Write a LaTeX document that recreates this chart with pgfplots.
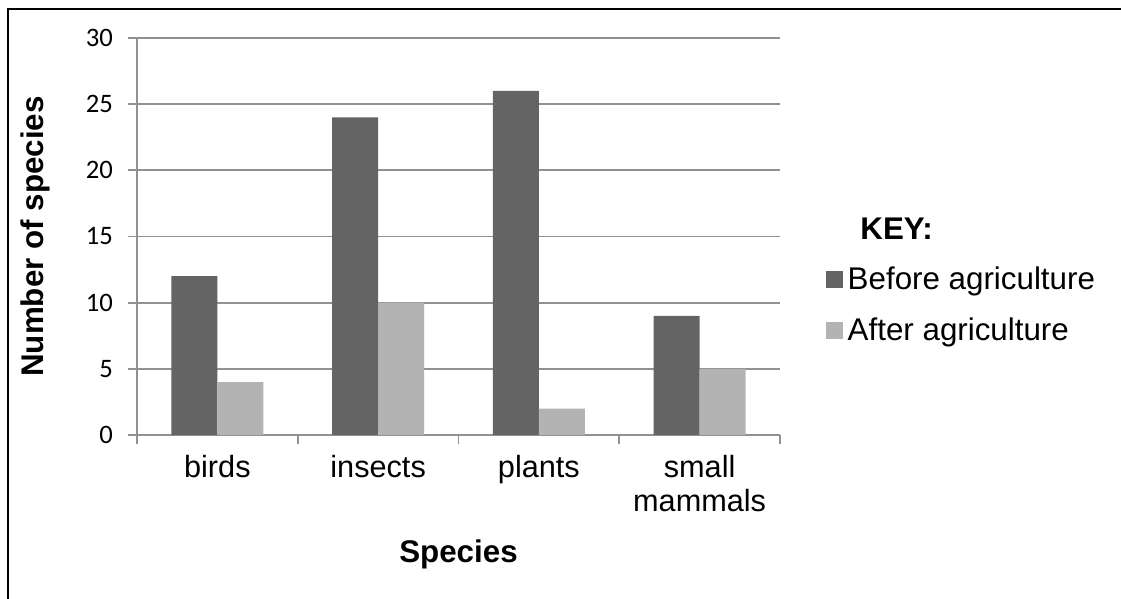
\documentclass[border=0pt]{standalone}
\usepackage{pgfplots}
\pgfplotsset{compat=1.18}
\usepackage{fontspec}
\setmainfont{Liberation Sans}
\newfontfamily\carlito{Carlito}
\definecolor{darkbar}{RGB}{100,100,100}
\definecolor{lightbar}{RGB}{179,179,179}
\definecolor{gridgray}{RGB}{145,145,145}
\begin{document}
\begin{tikzpicture}[x=0.75pt,y=0.75pt]
\path[use as bounding box] (0,0) rectangle (1121,599);
\draw[line width=1.5pt] (8,0) -- (8,590) -- (1121,590);
\begin{axis}[
  at={(137*0.75pt,164*0.75pt)}, anchor=south west,
  scale only axis, width=482.25pt, height=297.75pt,
  ybar=0pt, bar width=34.5pt,
  xmin=-0.5, xmax=3.5, ymin=0, ymax=30,
  axis x line=bottom, axis y line=left,
  axis line style={gridgray, line width=1.3pt, -},
  x axis line style={-}, y axis line style={-},
  ytick={0,5,...,30},
  ymajorgrids, grid style={gridgray, line width=1.3pt},
  tick align=outside, major tick length=6.5pt,
  tick style={gridgray, line width=1.3pt},
  xtick={-0.5,0.5,1.5,2.5,3.5}, xticklabels={},
  extra x ticks={0,1,2,3},
  extra x tick labels={birds,insects,plants,{small\\mammals}},
  extra x tick style={major tick length=0pt, xmajorgrids=false,
     tick label style={font=\fontsize{23}{25}\selectfont, align=center, yshift=-12pt}},
  /pgf/number format/assume math mode=true,
  y tick label style={font=\carlito\fontsize{20}{22}\selectfont, xshift=-8pt},
  ylabel={\textbf{Number of species}},
  ylabel style={font=\fontsize{23.5}{25}\selectfont, at={(axis description cs:-0.158,0.5)}, anchor=center},
  xlabel={\textbf{Species}},
  xlabel style={font=\fontsize{23.5}{25}\selectfont, at={(axis description cs:0.5,-0.302)}, anchor=center},
  legend style={draw=none, fill=none, at={(axis description cs:1.065,0.562)}, anchor=north west,
     font=\fontsize{23.5}{25}\selectfont, legend cell align=left, row sep=15.5pt,
     /tikz/every even column/.append style={column sep=0pt}},
  legend image code/.code={\fill[#1] (0pt,-6.4pt) rectangle (12.75pt,6.4pt);},
  legend style={nodes={inner xsep=3.5pt}},
]
\addlegendimage{empty legend}
\addlegendentry{\hspace*{9.5pt}\textbf{KEY:}}
\addplot[fill=darkbar, draw=none] coordinates {(0,12) (1,24) (2,26) (3,9)};
\addlegendentry{Before agriculture}
\addplot[fill=lightbar, draw=none] coordinates {(0,4) (1,10) (2,2) (3,5)};
\addlegendentry{After agriculture}
\end{axis}
\end{tikzpicture}
\end{document}
